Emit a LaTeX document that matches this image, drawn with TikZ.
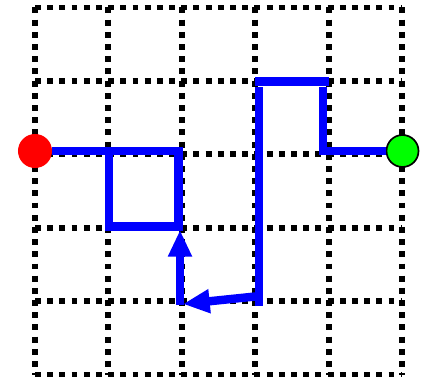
\documentclass[tikz,border=0pt]{standalone}
\usetikzlibrary{arrows.meta}
\begin{document}
\begin{tikzpicture}[x=0.025cm,y=-0.025cm,
  gridline/.style={line width=4.2pt, dash pattern=on 4.2pt off 4.47pt, black},
  pathline/.style={line width=6pt, blue},
  arr/.style={-{Triangle[length=19pt,width=16pt]}},
  endpt/.style={circle, inner sep=0pt, minimum size=0.85cm}]
\useasboundingbox (0,0) rectangle (427,381);
\foreach \i in {0,...,5}{
  \draw[gridline] ({35+73.4*\i},7.5) -- ({35+73.4*\i},374.5);
  \draw[gridline] (35,{7.5+73.4*\i}) -- (402,{7.5+73.4*\i});
}
\node[endpt, fill=red] (red) at (35,151) {};
\node[endpt, fill=green, draw=black, line width=1.2pt, minimum size=0.8cm] (green) at (402.5,151) {};
\coordinate (a2) at (178.5,151);
\coordinate (a3) at (178.5,226.5);
\coordinate (a4) at (109,226.5);
\coordinate (a5) at (109,149);
\coordinate (b1) at (180,305);
\coordinate (b2) at (180,230);
\coordinate (c1) at (260,296);
\coordinate (c2) at (183,304);
\coordinate (d1) at (259,306);
\coordinate (d2) at (259,87);
\coordinate (e1) at (255,81.5);
\coordinate (e2) at (329,81.5);
\coordinate (f1) at (323,87);
\coordinate (f2) at (323,151);
\draw[pathline] (red) -- (a2) -- (a3) -- (a4) -- (a5);
\draw[pathline, arr] (b1) -- (b2);
\draw[pathline, arr] (c1) -- (c2);
\draw[pathline] (d1) -- (d2);
\draw[pathline] (e1) -- (e2);
\draw[pathline] (f1) -- (f2) -- (green);
\end{tikzpicture}
\end{document}
